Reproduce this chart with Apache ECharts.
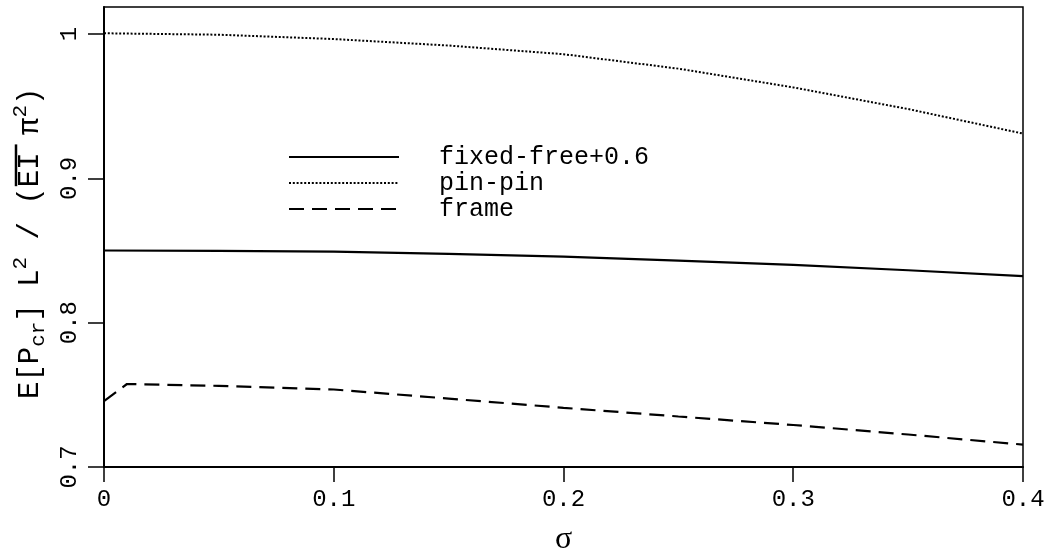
<!DOCTYPE html>
<html>
<head>
<meta charset="utf-8">
<script src="https://cdn.jsdelivr.net/npm/echarts@6/dist/echarts.min.js"></script>
<style>
  html, body { margin: 0; padding: 0; background: #fff; }
  #chart { width: 1049px; height: 552px; }
</style>
</head>
<body>
<div id="chart"></div>
<script>
// sigma (coefficient of variation) sample points
const sigma = [0, 0.05, 0.1, 0.15, 0.2, 0.25, 0.3, 0.35, 0.4];
const fixedFree = [0.850, 0.8497, 0.8492, 0.8477, 0.8458, 0.8430, 0.8400, 0.8363, 0.8322];
const pinPin = [1.0005, 0.9995, 0.9965, 0.9920, 0.9860, 0.9760, 0.9630, 0.9480, 0.9310];

const frameSigma = [0, 0.01, 0.05, 0.1, 0.15, 0.2, 0.25, 0.3, 0.35, 0.4];
const frame = [0.7457, 0.7575, 0.7562, 0.7537, 0.7474, 0.7410, 0.7350, 0.7291, 0.7225, 0.7155];

const seriesNames = ['fixed-free+0.6', 'pin-pin', 'frame'];

const xTicks = [0, 0.1, 0.2, 0.3, 0.4];
const xTickLabels = ['0', '0.1', '0.2', '0.3', '0.4'];
const yTicks = [0.7, 0.8, 0.9, 1.0];
const yTickLabels = ['0.7', '0.8', '0.9', '1'];

const MONO = '"Liberation Mono", "DejaVu Sans Mono", monospace';

function pairs(xs, ys) { return xs.map((x, i) => [x, ys[i]]); }
function labelFor(ticks, labels) {
  return v => {
    const i = ticks.findIndex(t => Math.abs(t - v) < 1e-9);
    return i < 0 ? '' : labels[i];
  };
}

// Vertical axis title: E[P_cr] L^2 / (EI-bar pi^2), laid out in a rotated group
const titleParts = [
  { t: 'E[P', size: 29, dy: 0 },
  { t: 'cr', size: 21, dy: 8 },
  { t: '] L', size: 29, dy: 0 },
  { t: '2', size: 21, dy: -10 },
  { t: ' / (', size: 29, dy: 0 },
  { t: 'EI', size: 29, dy: 0, over: true },
  { t: ' \u03C0', size: 29, dy: 0 },
  { t: '2', size: 21, dy: -10 },
  { t: ')', size: 29, dy: 0 }
];
const titleChildren = [];
let cursor = 0;
titleParts.forEach(p => {
  const w = 0.6 * p.size * p.t.length;
  titleChildren.push({
    type: 'text',
    style: {
      text: p.t, x: cursor, y: p.dy,
      font: p.size + 'px ' + MONO,
      fill: '#000', align: 'left', verticalAlign: 'middle'
    }
  });
  if (p.over) {
    titleChildren.push({
      type: 'line',
      shape: { x1: cursor + 1, y1: -14, x2: cursor + w + 8, y2: -14 },
      style: { stroke: '#000', lineWidth: 2.5 }
    });
  }
  cursor += w;
});

const chart = echarts.init(document.getElementById('chart'), null, { renderer: 'canvas' });

const lineCommon = {
  type: 'line', showSymbol: false, symbol: 'none', smooth: false, animation: false,
  itemStyle: { color: '#000' }
};

chart.setOption({
  animation: false,
  backgroundColor: '#fff',
  grid: {
    left: 104, right: 26, top: 7, bottom: 85,
    outerBoundsMode: 'none', containLabel: false,
    show: true, borderColor: '#000', borderWidth: 1.5, backgroundColor: 'transparent'
  },
  legend: {
    orient: 'vertical', left: 288, top: 144,
    itemWidth: 110, itemHeight: 14, itemGap: 0, padding: 0,
    itemStyle: { color: 'rgba(0,0,0,0)', borderColor: 'rgba(0,0,0,0)', borderWidth: 0, opacity: 0 },
    textStyle: { fontFamily: MONO, fontSize: 25, color: '#000', lineHeight: 26, padding: [0, 0, 0, 35] },
    data: seriesNames
  },
  xAxis: {
    type: 'value', min: 0, max: 0.4, interval: 0.1,
    name: '\u03C3', nameLocation: 'middle', nameGap: 57,
    nameTextStyle: { fontFamily: '"Liberation Serif", "DejaVu Serif", serif', fontSize: 32, color: '#000' },
    axisLine: { lineStyle: { color: '#000', width: 2 } },
    axisTick: { inside: false, length: 15, lineStyle: { color: '#000', width: 1.5 }, customValues: xTicks },
    axisLabel: { margin: 21, fontFamily: MONO, fontSize: 24, color: '#000', formatter: labelFor(xTicks, xTickLabels), customValues: xTicks },
    splitLine: { show: false }
  },
  yAxis: {
    type: 'value', min: 0.7, max: 1.0187,
    axisLine: { show: true, lineStyle: { color: '#000', width: 2 } },
    axisTick: { show: true, inside: false, length: 16, lineStyle: { color: '#000', width: 1.5 }, customValues: yTicks },
    axisLabel: { rotate: 90, margin: 22, fontFamily: MONO, fontSize: 24, color: '#000', formatter: labelFor(yTicks, yTickLabels), customValues: yTicks },
    splitLine: { show: false }
  },
  graphic: [{
    type: 'group', x: 30, y: 399, rotation: Math.PI / 2,
    children: titleChildren
  }],
  series: [
    Object.assign({}, lineCommon, {
      name: seriesNames[0], data: pairs(sigma, fixedFree),
      lineStyle: { color: '#000', width: 2.2, type: 'solid' }
    }),
    Object.assign({}, lineCommon, {
      name: seriesNames[1], data: pairs(sigma, pinPin),
      lineStyle: { color: '#000', width: 2, type: [2, 1.8] }
    }),
    Object.assign({}, lineCommon, {
      name: seriesNames[2], data: pairs(frameSigma, frame),
      lineStyle: { color: '#000', width: 2.2, type: [15, 8] }
    })
  ]
});
</script>
</body>
</html>
